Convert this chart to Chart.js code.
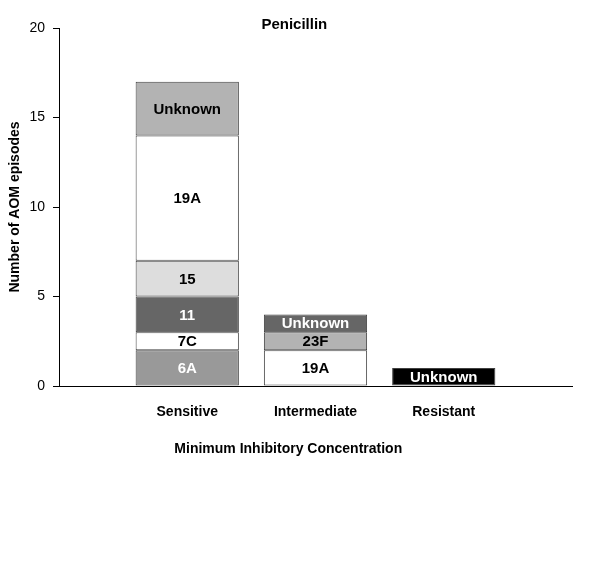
<!DOCTYPE html>
<html lang="en">
  <head>
    <meta charset="UTF-8" />
    <title>Penicillin</title>
    <script src="https://cdn.jsdelivr.net/npm/chart.js"></script>
    <style>
      body { margin: 0; background: #fff; }
    </style>
  </head>
  <body>
    <canvas id="chart" width="600" height="570"></canvas>
    <script>
      // MIC groups
      const categories = ["Sensitive", "Intermediate", "Resistant"];

      // serotype segments per group, bottom to top
      const sensitiveSerotypes = ["6A", "7C", "11", "15", "19A", "Unknown"];
      const sensitiveValues = [2, 1, 2, 2, 7, 3];
      const intermediateSerotypes = ["19A", "23F", "Unknown"];
      const intermediateValues = [2, 1, 1];
      const resistantSerotypes = ["Unknown"];
      const resistantValues = [1];

      const yTicks = [0, 5, 10, 15, 20];

      // fills / text colours, same order as the segments
      const sensitiveFill = ["#999999", "#ffffff", "#666666", "#dddddd", "#ffffff", "#b3b3b3"];
      const sensitiveText = ["#ffffff", "#000000", "#ffffff", "#000000", "#000000", "#000000"];
      const intermediateFill = ["#ffffff", "#b3b3b3", "#666666"];
      const intermediateText = ["#000000", "#000000", "#ffffff"];
      const resistantFill = ["#000000"];
      const resistantText = ["#ffffff"];

      const groups = [
        { values: sensitiveValues, names: sensitiveSerotypes, fill: sensitiveFill, text: sensitiveText },
        { values: intermediateValues, names: intermediateSerotypes, fill: intermediateFill, text: intermediateText },
        { values: resistantValues, names: resistantSerotypes, fill: resistantFill, text: resistantText },
      ];

      // one dataset per stack level, empty slot on each side of the axis
      const levels = Math.max(...groups.map((g) => g.values.length));
      const datasets = [];
      for (let k = 0; k < levels; k++) {
        const pick = (key, empty) => [empty, ...groups.map((g) => (k < g.values.length ? g[key][k] : empty)), empty];
        datasets.push({
          label: "level " + (k + 1),
          data: pick("values", null),
          names: pick("names", ""),
          textColors: pick("text", "#000"),
          backgroundColor: pick("fill", "#fff"),
          borderColor: "#404040",
          borderWidth: 1,
          borderSkipped: false,
          barPercentage: 1,
          categoryPercentage: 0.805,
        });
      }

      const segmentLabels = {
        id: "segmentLabels",
        afterDatasetsDraw(chart) {
          const ctx = chart.ctx;
          ctx.save();
          ctx.font = "bold 15px 'Liberation Sans', Arial, sans-serif";
          ctx.textAlign = "center";
          ctx.textBaseline = "middle";
          chart.data.datasets.forEach((ds, i) => {
            chart.getDatasetMeta(i).data.forEach((bar, j) => {
              if (ds.data[j] == null) return;
              ctx.fillStyle = ds.textColors[j];
              ctx.fillText(ds.names[j], bar.x, (bar.y + bar.base) / 2 + 1);
            });
          });
          ctx.restore();
        },
      };

      new Chart(document.getElementById("chart"), {
        type: "bar",
        data: { labels: ["", ...categories, ""], datasets: datasets },
        plugins: [segmentLabels],
        options: {
          responsive: false,
          animation: false,
          layout: { padding: { left: 0, right: 28, top: 0, bottom: 0 } },
          plugins: {
            legend: { display: false },
            tooltip: { enabled: false },
            title: {
              display: true,
              text: "    Penicillin",
              color: "#000",
              font: { family: "'Liberation Sans', Arial", size: 15, weight: "bold" },
              padding: { top: 16, bottom: -6 },
            },
          },
          scales: {
            x: {
              stacked: true,
              offset: false,
              grid: { display: false },
              border: { display: true, color: "#000", width: 1 },
              ticks: {
                color: "#000",
                padding: 10,
                maxRotation: 0,
                autoSkip: false,
                font: { family: "'Liberation Sans', Arial", size: 14, weight: "bold" },
              },
              title: {
                display: true,
                text: "Minimum Inhibitory Concentration              ",
                color: "#000",
                font: { family: "'Liberation Sans', Arial", size: 14, weight: "bold" },
                padding: { top: 0, bottom: 112 },
              },
              afterFit(scale) {
                scale.height = 184;
              },
            },
            y: {
              stacked: true,
              min: 0,
              max: 20,
              afterBuildTicks(scale) {
                scale.ticks = yTicks.map((v) => ({ value: v }));
              },
              grid: { drawOnChartArea: false, color: "#000", tickLength: 6 },
              border: { color: "#000", width: 1 },
              ticks: {
                color: "#000",
                padding: 8,
                font: { family: "'Liberation Sans', Arial", size: 14 },
              },
              title: {
                display: true,
                text: "Number of AOM episodes",
                color: "#000",
                font: { family: "'Liberation Sans', Arial", size: 14, weight: "bold" },
                padding: { top: 7, bottom: 0 },
              },
              afterFit(scale) {
                scale.width = 59;
              },
            },
          },
        },
      });
    </script>
  </body>
</html>
